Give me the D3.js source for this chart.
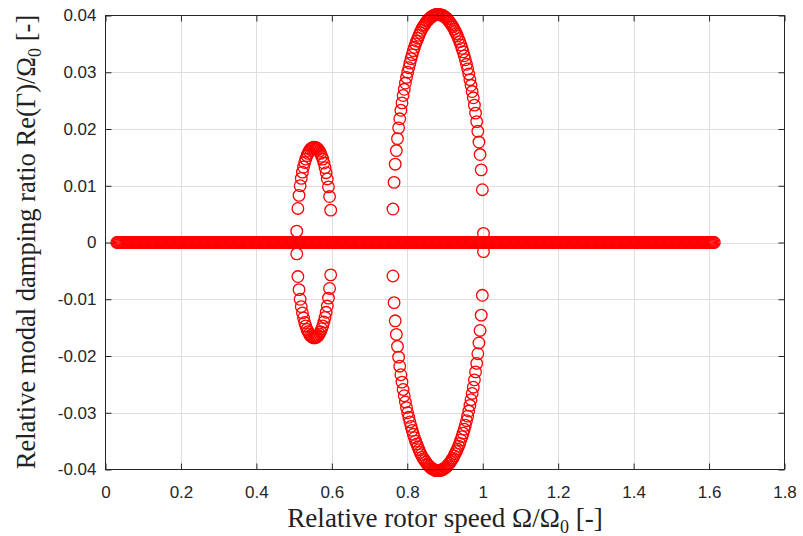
<!DOCTYPE html>
<html>
<head>
<meta charset="utf-8">
<script src="https://cdn.jsdelivr.net/npm/d3@7"></script>
<style>
  body { margin: 0; background: #ffffff; }
  svg { display: block; }
</style>
</head>
<body>
<svg id="chart" width="803" height="536"></svg>
<script>
// Axis ticks and their printed labels
const xTicks = [0, 0.2, 0.4, 0.6, 0.8, 1.0, 1.2, 1.4, 1.6, 1.8];
const xTickLabels = ["0", "0.2", "0.4", "0.6", "0.8", "1", "1.2", "1.4", "1.6", "1.8"];
const yTicks = [-0.04, -0.03, -0.02, -0.01, 0, 0.01, 0.02, 0.03, 0.04];
const yTickLabels = ["-0.04", "-0.03", "-0.02", "-0.01", "0", "0.01", "0.02", "0.03", "0.04"];

// Speeds at which the mode has zero relative damping
const bandSpeed = [
  0.030,0.033,0.036,0.039,0.042,0.045,0.048,0.051,0.054,0.057,
  0.060,0.063,0.066,0.069,0.072,0.075,0.078,0.081,0.084,0.087,
  0.090,0.093,0.096,0.099,0.102,0.105,0.108,0.111,0.114,0.117,
  0.120,0.123,0.126,0.129,0.132,0.135,0.138,0.141,0.144,0.147,
  0.150,0.153,0.156,0.159,0.162,0.165,0.168,0.171,0.174,0.177,
  0.180,0.183,0.186,0.189,0.192,0.195,0.198,0.201,0.204,0.207,
  0.210,0.213,0.216,0.219,0.222,0.225,0.228,0.231,0.234,0.237,
  0.240,0.243,0.246,0.249,0.252,0.255,0.258,0.261,0.264,0.267,
  0.270,0.273,0.276,0.279,0.282,0.285,0.288,0.291,0.294,0.297,
  0.300,0.303,0.306,0.309,0.312,0.315,0.318,0.321,0.324,0.327,
  0.330,0.333,0.336,0.339,0.342,0.345,0.348,0.351,0.354,0.357,
  0.360,0.363,0.366,0.369,0.372,0.375,0.378,0.381,0.384,0.387,
  0.390,0.393,0.396,0.399,0.402,0.405,0.408,0.411,0.414,0.417,
  0.420,0.423,0.426,0.429,0.432,0.435,0.438,0.441,0.444,0.447,
  0.450,0.453,0.456,0.459,0.462,0.465,0.468,0.471,0.474,0.477,
  0.480,0.483,0.486,0.489,0.492,0.495,0.498,0.501,0.504,0.507,
  0.510,0.513,0.516,0.519,0.522,0.525,0.528,0.531,0.534,0.537,
  0.540,0.543,0.546,0.549,0.552,0.555,0.558,0.561,0.564,0.567,
  0.570,0.573,0.576,0.579,0.582,0.585,0.588,0.591,0.594,0.597,
  0.600,0.603,0.606,0.609,0.612,0.615,0.618,0.621,0.624,0.627,
  0.630,0.633,0.636,0.639,0.642,0.645,0.648,0.651,0.654,0.657,
  0.660,0.663,0.666,0.669,0.672,0.675,0.678,0.681,0.684,0.687,
  0.690,0.693,0.696,0.699,0.702,0.705,0.708,0.711,0.714,0.717,
  0.720,0.723,0.726,0.729,0.732,0.735,0.738,0.741,0.744,0.747,
  0.750,0.753,0.756,0.759,0.762,0.765,0.768,0.771,0.774,0.777,
  0.780,0.783,0.786,0.789,0.792,0.795,0.798,0.801,0.804,0.807,
  0.810,0.813,0.816,0.819,0.822,0.825,0.828,0.831,0.834,0.837,
  0.840,0.843,0.846,0.849,0.852,0.855,0.858,0.861,0.864,0.867,
  0.870,0.873,0.876,0.879,0.882,0.885,0.888,0.891,0.894,0.897,
  0.900,0.903,0.906,0.909,0.912,0.915,0.918,0.921,0.924,0.927,
  0.930,0.933,0.936,0.939,0.942,0.945,0.948,0.951,0.954,0.957,
  0.960,0.963,0.966,0.969,0.972,0.975,0.978,0.981,0.984,0.987,
  0.990,0.993,0.996,0.999,1.002,1.005,1.008,1.011,1.014,1.017,
  1.020,1.023,1.026,1.029,1.032,1.035,1.038,1.041,1.044,1.047,
  1.050,1.053,1.056,1.059,1.062,1.065,1.068,1.071,1.074,1.077,
  1.080,1.083,1.086,1.089,1.092,1.095,1.098,1.101,1.104,1.107,
  1.110,1.113,1.116,1.119,1.122,1.125,1.128,1.131,1.134,1.137,
  1.140,1.143,1.146,1.149,1.152,1.155,1.158,1.161,1.164,1.167,
  1.170,1.173,1.176,1.179,1.182,1.185,1.188,1.191,1.194,1.197,
  1.200,1.203,1.206,1.209,1.212,1.215,1.218,1.221,1.224,1.227,
  1.230,1.233,1.236,1.239,1.242,1.245,1.248,1.251,1.254,1.257,
  1.260,1.263,1.266,1.269,1.272,1.275,1.278,1.281,1.284,1.287,
  1.290,1.293,1.296,1.299,1.302,1.305,1.308,1.311,1.314,1.317,
  1.320,1.323,1.326,1.329,1.332,1.335,1.338,1.341,1.344,1.347,
  1.350,1.353,1.356,1.359,1.362,1.365,1.368,1.371,1.374,1.377,
  1.380,1.383,1.386,1.389,1.392,1.395,1.398,1.401,1.404,1.407,
  1.410,1.413,1.416,1.419,1.422,1.425,1.428,1.431,1.434,1.437,
  1.440,1.443,1.446,1.449,1.452,1.455,1.458,1.461,1.464,1.467,
  1.470,1.473,1.476,1.479,1.482,1.485,1.488,1.491,1.494,1.497,
  1.500,1.503,1.506,1.509,1.512,1.515,1.518,1.521,1.524,1.527,
  1.530,1.533,1.536,1.539,1.542,1.545,1.548,1.551,1.554,1.557,
  1.560,1.563,1.566,1.569,1.572,1.575,1.578,1.581,1.584,1.587,
  1.590,1.593,1.596,1.599,1.602,1.605,1.608,1.611,1.614
];
const bandDamping = 0;

// First instability loop (pair of modes splitting around 0.55)
const loop1Speed = [
  0.507,0.510,0.513,0.516,0.519,0.522,0.525,0.528,0.531,0.534,
  0.537,0.540,0.543,0.546,0.549,0.552,0.555,0.558,0.561,0.564,
  0.567,0.570,0.573,0.576,0.579,0.582,0.585,0.588,0.591,0.594,0.597
];
const loop1Upper = [
  0.0020,0.0060,0.0083,0.0100,0.0113,0.0124,0.0133,0.0141,0.0147,0.0153,
  0.0157,0.0161,0.0164,0.0166,0.0167,0.0168,0.0168,0.0167,0.0166,0.0164,
  0.0161,0.0157,0.0152,0.0147,0.0140,0.0132,0.0123,0.0112,0.0098,0.0081,0.0057
];
const loop1Lower = [
  -0.0020,-0.0060,-0.0083,-0.0100,-0.0113,-0.0124,-0.0133,-0.0141,-0.0147,-0.0153,
  -0.0157,-0.0161,-0.0164,-0.0166,-0.0167,-0.0168,-0.0168,-0.0167,-0.0166,-0.0164,
  -0.0161,-0.0157,-0.0152,-0.0147,-0.0140,-0.0132,-0.0123,-0.0112,-0.0098,-0.0081,-0.0057
];

// Second instability loop (around 0.88)
const loop2Speed = [
  0.762,0.765,0.768,0.771,0.774,0.777,0.780,0.783,0.786,0.789,
  0.792,0.795,0.798,0.801,0.804,0.807,0.810,0.813,0.816,0.819,
  0.822,0.825,0.828,0.831,0.834,0.837,0.840,0.843,0.846,0.849,
  0.852,0.855,0.858,0.861,0.864,0.867,0.870,0.873,0.876,0.879,
  0.882,0.885,0.888,0.891,0.894,0.897,0.900,0.903,0.906,0.909,
  0.912,0.915,0.918,0.921,0.924,0.927,0.930,0.933,0.936,0.939,
  0.942,0.945,0.948,0.951,0.954,0.957,0.960,0.963,0.966,0.969,
  0.972,0.975,0.978,0.981,0.984,0.987,0.990,0.993,0.996,0.999,1.002
];
const loop2Upper = [
  0.0059,0.0106,0.0138,0.0162,0.0183,0.0202,0.0218,0.0233,0.0246,0.0259,
  0.0270,0.0281,0.0291,0.0300,0.0308,0.0316,0.0324,0.0331,0.0338,0.0344,
  0.0350,0.0355,0.0360,0.0365,0.0370,0.0374,0.0378,0.0381,0.0384,0.0387,
  0.0390,0.0392,0.0394,0.0396,0.0398,0.0399,0.0400,0.0401,0.0402,0.0402,
  0.0402,0.0402,0.0401,0.0401,0.0400,0.0399,0.0397,0.0396,0.0394,0.0391,
  0.0389,0.0386,0.0383,0.0380,0.0376,0.0372,0.0368,0.0364,0.0359,0.0354,
  0.0348,0.0342,0.0336,0.0329,0.0322,0.0314,0.0306,0.0297,0.0287,0.0277,
  0.0266,0.0255,0.0242,0.0228,0.0213,0.0196,0.0177,0.0155,0.0128,0.0093,0.0016
];
const loop2Lower = [
  -0.0059,-0.0106,-0.0138,-0.0162,-0.0183,-0.0202,-0.0218,-0.0233,-0.0246,-0.0259,
  -0.0270,-0.0281,-0.0291,-0.0300,-0.0308,-0.0316,-0.0324,-0.0331,-0.0338,-0.0344,
  -0.0350,-0.0355,-0.0360,-0.0365,-0.0370,-0.0374,-0.0378,-0.0381,-0.0384,-0.0387,
  -0.0390,-0.0392,-0.0394,-0.0396,-0.0398,-0.0399,-0.0400,-0.0401,-0.0402,-0.0402,
  -0.0402,-0.0402,-0.0401,-0.0401,-0.0400,-0.0399,-0.0397,-0.0396,-0.0394,-0.0391,
  -0.0389,-0.0386,-0.0383,-0.0380,-0.0376,-0.0372,-0.0368,-0.0364,-0.0359,-0.0354,
  -0.0348,-0.0342,-0.0336,-0.0329,-0.0322,-0.0314,-0.0306,-0.0297,-0.0287,-0.0277,
  -0.0266,-0.0255,-0.0242,-0.0228,-0.0213,-0.0196,-0.0177,-0.0155,-0.0128,-0.0093,-0.0016
];

// ---- layout ----
const svg = d3.select("#chart");
const plot = { left: 105.5, right: 784.5, top: 15.5, bottom: 469.5 };
const axisColor = "#262626";
const tickFont = "'Liberation Sans', Arial, Helvetica, sans-serif";
const labelFont = "'Liberation Serif', 'Times New Roman', serif";
const markerColor = "#ff0000";

const x = d3.scaleLinear().domain([xTicks[0], xTicks[xTicks.length - 1]]).range([plot.left, plot.right]);
const y = d3.scaleLinear().domain([yTicks[0], yTicks[yTicks.length - 1]]).range([plot.bottom, plot.top]);

// grid
const grid = svg.append("g").attr("stroke", "#dedede").attr("stroke-width", 1);
grid.selectAll("line.gx").data(xTicks.slice(1, -1)).join("line")
  .attr("x1", d => Math.round(x(d)) + 0.5).attr("x2", d => Math.round(x(d)) + 0.5)
  .attr("y1", plot.top).attr("y2", plot.bottom);
grid.selectAll("line.gy").data(yTicks.slice(1, -1)).join("line")
  .attr("y1", d => Math.round(y(d)) + 0.5).attr("y2", d => Math.round(y(d)) + 0.5)
  .attr("x1", plot.left).attr("x2", plot.right);

// markers
const points = [];
bandSpeed.forEach(s => points.push([s, bandDamping]));
loop1Speed.forEach((s, i) => { points.push([s, loop1Upper[i]]); points.push([s, loop1Lower[i]]); });
loop2Speed.forEach((s, i) => { points.push([s, loop2Upper[i]]); points.push([s, loop2Lower[i]]); });

svg.append("g").selectAll("circle").data(points).join("circle")
  .attr("cx", d => x(d[0]))
  .attr("cy", d => y(d[1]))
  .attr("r", 5.8)
  .attr("fill", "none")
  .attr("stroke", markerColor)
  .attr("stroke-width", 1.3);

// axes (inward ticks on all four sides)
function styleAxis(g) {
  g.select(".domain").remove();
  g.selectAll(".tick line").attr("stroke", axisColor);
  g.selectAll(".tick text").attr("fill", axisColor)
    .style("font-family", tickFont).style("font-size", "17px");
}
svg.append("g").attr("transform", `translate(0,${plot.bottom})`)
  .call(d3.axisBottom(x).tickValues(xTicks).tickFormat((d, i) => xTickLabels[i])
    .tickSizeInner(-6).tickSizeOuter(0).tickPadding(16))
  .call(styleAxis);
svg.append("g").attr("transform", `translate(0,${plot.top})`)
  .call(d3.axisTop(x).tickValues(xTicks).tickFormat("")
    .tickSizeInner(-6).tickSizeOuter(0))
  .call(styleAxis);
svg.append("g").attr("transform", `translate(${plot.left},0)`)
  .call(d3.axisLeft(y).tickValues(yTicks).tickFormat((d, i) => yTickLabels[i])
    .tickSizeInner(-6).tickSizeOuter(0).tickPadding(9))
  .call(styleAxis);
svg.append("g").attr("transform", `translate(${plot.right},0)`)
  .call(d3.axisRight(y).tickValues(yTicks).tickFormat("")
    .tickSizeInner(-6).tickSizeOuter(0))
  .call(styleAxis);

// frame
svg.append("rect")
  .attr("x", plot.left).attr("y", plot.top)
  .attr("width", plot.right - plot.left).attr("height", plot.bottom - plot.top)
  .attr("fill", "none").attr("stroke", axisColor).attr("stroke-width", 1);

// axis titles
function titleWithSubscript(sel, before, after, size) {
  sel.style("font-family", labelFont).style("font-size", size + "px").attr("fill", "#222");
  sel.append("tspan").text(before);
  sel.append("tspan").text("0").style("font-size", Math.round(size * 0.68) + "px").attr("dy", size * 0.22);
  sel.append("tspan").text(after).attr("dy", -size * 0.22);
}
function fitWidth(sel, target, size, before, after) {
  const w = sel.node().getComputedTextLength();
  const s = size * target / w;
  sel.selectAll("tspan").remove();
  titleWithSubscript(sel, before, after, s);
}

const xTitle = svg.append("text").attr("x", 445).attr("y", 527).attr("text-anchor", "middle");
titleWithSubscript(xTitle, "Relative rotor speed \u03A9/\u03A9", " [-]", 20);
fitWidth(xTitle, 316, 20, "Relative rotor speed \u03A9/\u03A9", " [-]");

const yTitle = svg.append("text").attr("transform", "translate(35,242) rotate(-90)").attr("text-anchor", "middle");
titleWithSubscript(yTitle, "Relative modal damping ratio Re(\u0393)/\u03A9", " [-]", 20);
fitWidth(yTitle, 455, 20, "Relative modal damping ratio Re(\u0393)/\u03A9", " [-]");
</script>
</body>
</html>
